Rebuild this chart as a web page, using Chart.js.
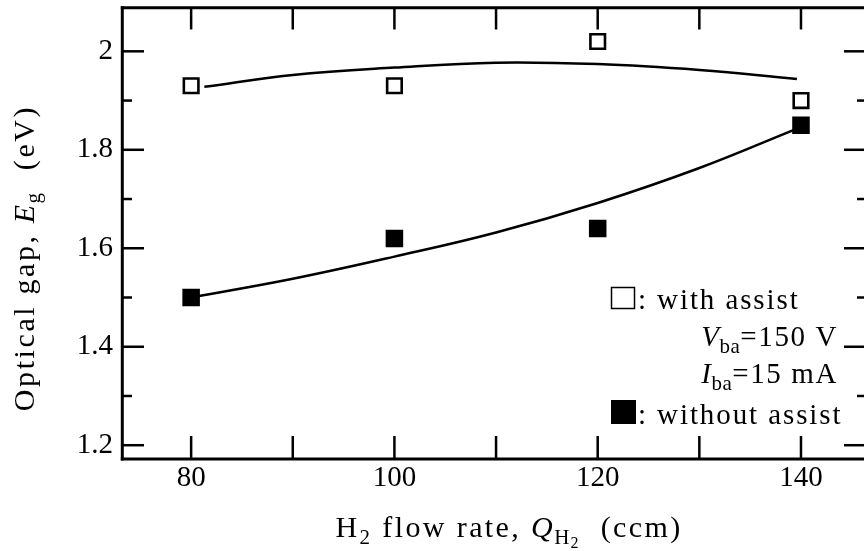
<!DOCTYPE html>
<html>
<head>
<meta charset="utf-8">
<script src="https://cdn.jsdelivr.net/npm/chart.js@4.4.0/dist/chart.umd.min.js"></script>
<style>
html,body{margin:0;padding:0;background:#fff;overflow:hidden}
#wrap{width:864px;height:551px;position:relative}
</style>
</head>
<body>
<div id="wrap"><canvas id="c" width="864" height="551"></canvas></div>
<script>
// ---- data ----
const flowRates = [80, 100, 120, 140];
const gapWithAssist = [1.93, 1.93, 2.02, 1.90];
const gapWithoutAssist = [1.50, 1.62, 1.64, 1.85];
const fitWithAssistX = [81.3, 90, 100, 110, 120, 130, 139.6];
const fitWithAssistY = [1.928, 1.952, 1.967, 1.977, 1.974, 1.962, 1.944];
const fitWithoutAssistX = [80, 90, 100, 110, 120, 130, 139.5];
const fitWithoutAssistY = [1.500, 1.538, 1.583, 1.632, 1.692, 1.763, 1.842];
const xMajorTicks = [80, 100, 120, 140];
const xMinorTicks = [90, 110, 130];
const yMajorTicks = [1.2, 1.4, 1.6, 1.8, 2.0];
const yTickLabels = ['1.2', '1.4', '1.6', '1.8', '2'];
const yMinorTicks = [1.3, 1.5, 1.7, 1.9];

const SERIF = '"Liberation Serif", "Times New Roman", serif';
const toPts = (xs, ys) => xs.map((x, i) => ({x: x, y: ys[i]}));

function drawRich(ctx, segs, x, y, align) {
  let total = 0;
  segs.forEach(s => {
    ctx.font = s.font;
    let w = 0;
    for (const ch of s.text) w += ctx.measureText(ch).width + (s.ls || 0);
    s.w = w; total += w;
  });
  let cx = align === 'center' ? x - total / 2 : (align === 'right' ? x - total : x);
  segs.forEach(s => {
    ctx.font = s.font;
    let px = cx;
    for (const ch of s.text) {
      ctx.fillText(ch, px, y + (s.dy || 0));
      px += ctx.measureText(ch).width + (s.ls || 0);
    }
    cx += s.w;
  });
}

const frameAndText = {
  id: 'frameAndText',
  afterDraw(chart) {
    const ctx = chart.ctx;
    const a = chart.chartArea;
    const xs = chart.scales.x, ys = chart.scales.y;
    ctx.save();
    ctx.strokeStyle = '#000';
    ctx.fillStyle = '#000';
    ctx.lineCap = 'butt';
    // frame
    ctx.lineWidth = 3;
    ctx.beginPath();
    ctx.moveTo(a.left + 1.3, a.top - 1.2);
    ctx.lineTo(a.left + 1.3, a.bottom + 1.5);
    ctx.stroke();
    ctx.beginPath();
    ctx.moveTo(a.left - 0.2, a.top + 0.2);
    ctx.lineTo(a.right + 5, a.top + 0.2);
    ctx.stroke();
    ctx.beginPath();
    ctx.moveTo(a.left - 0.2, a.bottom);
    ctx.lineTo(a.right + 5, a.bottom);
    ctx.stroke();
    // x ticks (bottom & top)
    ctx.lineWidth = 2.5;
    xMajorTicks.concat(xMinorTicks).forEach(v => {
      const px = xs.getPixelForValue(v);
      ctx.beginPath(); ctx.moveTo(px, a.bottom); ctx.lineTo(px, a.bottom - 23); ctx.stroke();
      ctx.beginPath(); ctx.moveTo(px, a.top); ctx.lineTo(px, a.top + 22); ctx.stroke();
    });
    // y ticks (left & right)
    const rightAxis = a.right + 4;
    yMajorTicks.forEach(v => {
      const py = ys.getPixelForValue(v);
      ctx.beginPath(); ctx.moveTo(a.left, py); ctx.lineTo(a.left + 23, py); ctx.stroke();
      ctx.beginPath(); ctx.moveTo(rightAxis, py); ctx.lineTo(rightAxis - 24, py); ctx.stroke();
    });
    yMinorTicks.forEach(v => {
      const py = ys.getPixelForValue(v);
      ctx.beginPath(); ctx.moveTo(a.left, py); ctx.lineTo(a.left + 11, py); ctx.stroke();
      ctx.beginPath(); ctx.moveTo(rightAxis, py); ctx.lineTo(rightAxis - 11, py); ctx.stroke();
    });

    const f = (sz, it) => (it ? 'italic ' : '') + sz + 'px ' + SERIF;
    ctx.textBaseline = 'alphabetic';
    // x axis title
    drawRich(ctx, [
      {text: 'H', font: f(30), ls: 2.4},
      {text: '2', font: f(21), dy: 7, ls: 2.4},
      {text: ' flow rate, ', font: f(30), ls: 2.4},
      {text: 'Q', font: f(30, true), ls: 1.5},
      {text: 'H', font: f(21), dy: 7, ls: 1},
      {text: '2', font: f(16), dy: 11, ls: 2.4},
      {text: '  (ccm)', font: f(30), ls: 2.4}
    ], 509, 537, 'center');
    // y axis title
    ctx.save();
    ctx.translate(34, 258);
    ctx.rotate(-Math.PI / 2);
    drawRich(ctx, [
      {text: 'Optical gap, ', font: f(30), ls: 2.6},
      {text: 'E', font: f(30, true), ls: 1.5},
      {text: 'g', font: f(21), dy: 6, ls: 2.6},
      {text: '  (eV)', font: f(30), ls: 2.6}
    ], 0, 0, 'center');
    ctx.restore();

    // legend / annotation
    ctx.lineWidth = 1.5;
    ctx.strokeRect(611.5, 287.5, 23, 21);
    ctx.fillRect(611, 400, 25, 24);
    drawRich(ctx, [{text: ': with assist', font: f(29), ls: 1.9}], 638, 309, 'left');
    drawRich(ctx, [
      {text: 'V', font: f(29, true), ls: 0.5},
      {text: 'ba', font: f(21), dy: 7, ls: 0.5},
      {text: '=150 V', font: f(29), ls: 1.6}
    ], 838, 346, 'right');
    drawRich(ctx, [
      {text: 'I', font: f(29, true), ls: 0.5},
      {text: 'ba', font: f(21), dy: 7, ls: 0.5},
      {text: '=15 mA', font: f(29), ls: 1.6}
    ], 838, 383, 'right');
    drawRich(ctx, [{text: ': without assist', font: f(29), ls: 1.9}], 638, 424, 'left');
    ctx.restore();
  }
};

const ctx = document.getElementById('c').getContext('2d');
new Chart(ctx, {
  type: 'scatter',
  data: {
    datasets: [
      {
        label: 'with assist',
        data: toPts(flowRates, gapWithAssist),
        pointStyle: 'rect', pointRadius: 10.3, pointHoverRadius: 10.3,
        borderColor: '#000', backgroundColor: '#fff', borderWidth: 2.6,
        order: 0
      },
      {
        label: 'without assist',
        data: toPts(flowRates, gapWithoutAssist),
        pointStyle: 'rect', pointRadius: 12.4, pointHoverRadius: 12.4,
        borderColor: '#000', backgroundColor: '#000', borderWidth: 0,
        order: 0
      },
      {
        type: 'line',
        label: 'fit with assist',
        data: toPts(fitWithAssistX, fitWithAssistY),
        showLine: true, pointRadius: 0, borderColor: '#000', borderWidth: 2.5,
        tension: 0.4, fill: false, order: 1
      },
      {
        type: 'line',
        label: 'fit without assist',
        data: toPts(fitWithoutAssistX, fitWithoutAssistY),
        showLine: true, pointRadius: 0, borderColor: '#000', borderWidth: 2.5,
        tension: 0.4, fill: false, order: 1
      }
    ]
  },
  options: {
    responsive: false,
    animation: false,
    devicePixelRatio: 1,
    layout: {autoPadding: false, padding: {top: 7.5, left: 0, right: 0, bottom: 0}},
    plugins: {legend: {display: false}, tooltip: {enabled: false}},
    scales: {
      x: {
        type: 'linear', min: 73.1, max: 146.2,
        grid: {display: false, drawTicks: false},
        border: {display: false},
        afterBuildTicks: s => { s.ticks = xMajorTicks.map(v => ({value: v})); },
        afterFit: s => { s.height = 92; s.paddingLeft = 0; s.paddingRight = 0; },
        ticks: {
          padding: 2, color: '#000', maxRotation: 0, autoSkip: false,
          font: {family: SERIF, size: 29},
          callback: v => String(v)
        }
      },
      y: {
        type: 'linear', min: 1.172, max: 2.089,
        grid: {display: false, drawTicks: false},
        border: {display: false},
        afterBuildTicks: s => { s.ticks = yMajorTicks.map(v => ({value: v})); },
        afterFit: s => { s.width = 121; s.paddingTop = 0; s.paddingBottom = 0; },
        ticks: {
          padding: 8, color: '#000', autoSkip: false,
          font: {family: SERIF, size: 29},
          callback: v => {
            const i = yMajorTicks.findIndex(t => Math.abs(t - v) < 1e-6);
            return i >= 0 ? yTickLabels[i] : '';
          }
        }
      }
    }
  },
  plugins: [frameAndText]
});
</script>
</body>
</html>
